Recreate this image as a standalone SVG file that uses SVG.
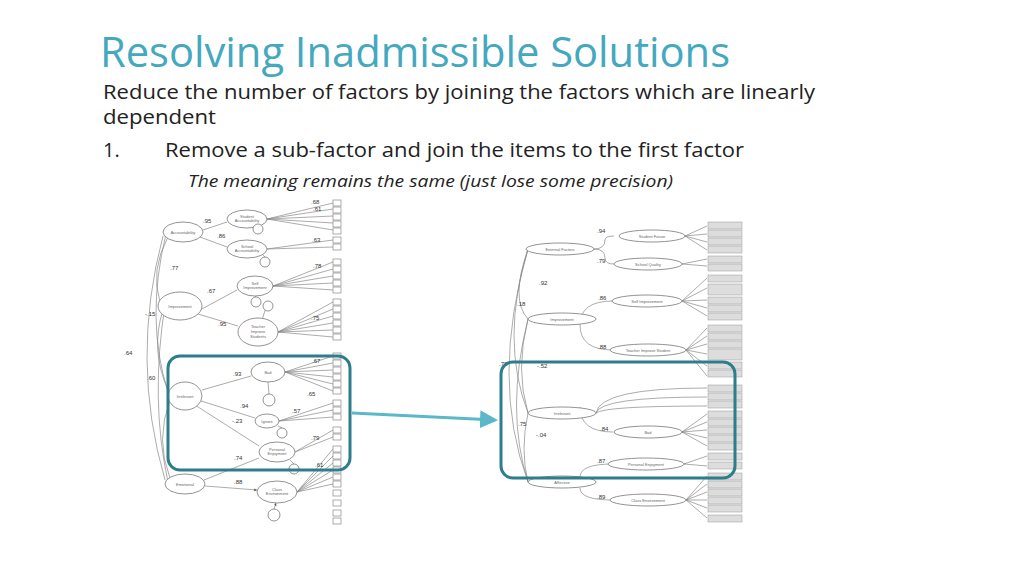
<svg xmlns="http://www.w3.org/2000/svg" width="1024" height="576" viewBox="0 0 1024 576">
<style>
.t{font-family:"Open Sans","Liberation Sans",sans-serif;fill:#222}
.e{fill:#fff;stroke:#777;stroke-width:0.8}
.l{stroke:#888;stroke-width:0.7;fill:none}
.s{font-family:"Liberation Sans",sans-serif;font-size:4px;fill:#666;text-anchor:middle}
.n{font-family:"Liberation Sans",sans-serif;font-size:6px;fill:#333}
.b{fill:#fff;stroke:#777;stroke-width:0.6}
.rb{fill:#ddd;stroke:#999;stroke-width:0.5}
.hl{fill:none;stroke:#2e7d8c;stroke-width:3}
</style>
<defs>
<marker id="a" markerWidth="4" markerHeight="4" refX="4" refY="2" orient="auto"><path d="M0,0L4,2L0,4z" fill="#555"/></marker>
<marker id="ta" markerWidth="6" markerHeight="6" refX="5" refY="3" orient="auto"><path d="M0,0L6,3L0,6z" fill="#5bb8c9"/></marker>
</defs>
<rect width="1024" height="576" fill="#fff"/>
<text x="100" y="67" font-family="Open Sans,Liberation Sans,sans-serif" font-size="42" fill="#44a8bf" textLength="630" lengthAdjust="spacingAndGlyphs">Resolving Inadmissible Solutions</text>
<text class="t" x="103" y="99" font-size="20" textLength="712" lengthAdjust="spacingAndGlyphs">Reduce the number of factors by joining the factors which are linearly</text>
<text class="t" x="103" y="124" font-size="20" textLength="113" lengthAdjust="spacingAndGlyphs">dependent</text>
<text class="t" x="103" y="157" font-size="20">1.</text>
<text class="t" x="165" y="157" font-size="20" textLength="579" lengthAdjust="spacingAndGlyphs">Remove a sub-factor and join the items to the first factor</text>
<text class="t" x="188" y="187" font-size="17" font-style="italic" textLength="485" lengthAdjust="spacingAndGlyphs">The meaning remains the same (just lose some precision)</text>

<g id="left">
<g id="connL">
<path class="l" d="M203,230L227,222M200,237L227,247M200,310L237,290M198,314L238,326M202,390L251,376M198,400L255,418M195,405L259,446M204,480L259,458M205,486L257,490" marker-end="url(#a)"/>
<path class="l" d="M163,236Q130,360 165,480M166,234Q145,320 168,392M168,237Q150,270 160,302M163,310Q150,350 168,390M165,305Q150,400 168,482M170,400Q155,440 170,478"/>
<path class="l" d="M267,219L333,203M267,219L333,209M267,219L333,216M267,219L333,223M267,219L333,230M267,249L333,240M267,249L333,247M273,286L333,262M273,286L333,269M273,286L333,276M273,286L333,283M273,286L333,290M278,332L333,302M278,332L333,309M278,332L333,316M278,332L333,323M278,332L333,330M278,332L333,337M285,372L333,356M285,372L333,363M285,372L333,370M285,372L333,377M285,372L333,384M285,372L333,391M279,421L333,403M279,421L333,410M279,421L333,417M295,452L333,430M295,452L333,437M297,492L333,449M297,492L333,456M297,492L333,463M297,492L333,470M297,492L333,477M297,492L333,484"/>
<path class="l" d="M258,224L255,219M265,257L260,252M256,297L255,296M268,301L262,320M269,394L268,382M282,428L278,426M294,464L290,460M274,509L276,503" marker-end="url(#a)"/>
</g>
<g id="ovals">
<ellipse class="e" cx="183" cy="232" rx="20" ry="10"/><text class="s" x="183" y="234">Accountability</text>
<ellipse class="e" cx="247" cy="219" rx="20" ry="9"/><text class="s" x="247" y="218">Student</text><text class="s" x="247" y="222">Accountability</text>
<ellipse class="e" cx="247" cy="249" rx="20" ry="9"/><text class="s" x="247" y="248">School</text><text class="s" x="247" y="252">Accountability</text>
<ellipse class="e" cx="180" cy="306" rx="22" ry="14"/><text class="s" x="180" y="308">Improvement</text>
<ellipse class="e" cx="255" cy="286" rx="18" ry="10"/><text class="s" x="255" y="285">Self</text><text class="s" x="255" y="289">Improvement</text>
<ellipse class="e" cx="258" cy="332" rx="20" ry="14"/><text class="s" x="258" y="328">Teacher</text><text class="s" x="258" y="333">Improve</text><text class="s" x="258" y="338">Students</text>
<ellipse class="e" cx="185" cy="396" rx="17" ry="14"/><text class="s" x="185" y="398">Irrelevant</text>
<ellipse class="e" cx="268" cy="372" rx="17" ry="10"/><text class="s" x="268" y="374">Bad</text>
<ellipse class="e" cx="267" cy="421" rx="12" ry="7"/><text class="s" x="267" y="423">Ignore</text>
<ellipse class="e" cx="277" cy="452" rx="18" ry="10"/><text class="s" x="277" y="451">Personal</text><text class="s" x="277" y="455">Enjoyment</text>
<ellipse class="e" cx="185" cy="484" rx="20" ry="10"/><text class="s" x="185" y="486">Emotional</text>
<ellipse class="e" cx="277" cy="492" rx="20" ry="11"/><text class="s" x="277" y="491">Class</text><text class="s" x="277" y="495">Environment</text>
<circle class="e" cx="258" cy="229" r="5"/><circle class="e" cx="265" cy="262" r="5"/><circle class="e" cx="256" cy="302" r="5"/><circle class="e" cx="268" cy="306" r="5"/><circle class="e" cx="269" cy="400" r="6"/><circle class="e" cx="282" cy="433" r="5"/><circle class="e" cx="294" cy="469" r="5"/><circle class="e" cx="274" cy="515" r="6"/>
</g>
<g id="boxesL">
<rect class="b" x="333" y="200" width="8" height="6"/><rect class="b" x="333" y="207" width="8" height="6"/><rect class="b" x="333" y="214" width="8" height="6"/><rect class="b" x="333" y="221" width="8" height="6"/><rect class="b" x="333" y="228" width="8" height="6"/><rect class="b" x="333" y="237" width="8" height="6"/><rect class="b" x="333" y="244" width="8" height="6"/><rect class="b" x="333" y="259" width="8" height="6"/><rect class="b" x="333" y="266" width="8" height="6"/><rect class="b" x="333" y="273" width="8" height="6"/><rect class="b" x="333" y="280" width="8" height="6"/><rect class="b" x="333" y="287" width="8" height="6"/><rect class="b" x="333" y="299" width="8" height="6"/><rect class="b" x="333" y="306" width="8" height="6"/><rect class="b" x="333" y="313" width="8" height="6"/><rect class="b" x="333" y="320" width="8" height="6"/><rect class="b" x="333" y="327" width="8" height="6"/><rect class="b" x="333" y="334" width="8" height="6"/><rect class="b" x="333" y="353" width="8" height="6"/><rect class="b" x="333" y="360" width="8" height="6"/><rect class="b" x="333" y="367" width="8" height="6"/><rect class="b" x="333" y="374" width="8" height="6"/><rect class="b" x="333" y="381" width="8" height="6"/><rect class="b" x="333" y="388" width="8" height="6"/><rect class="b" x="333" y="400" width="8" height="6"/><rect class="b" x="333" y="407" width="8" height="6"/><rect class="b" x="333" y="414" width="8" height="6"/><rect class="b" x="333" y="427" width="8" height="6"/><rect class="b" x="333" y="434" width="8" height="6"/><rect class="b" x="333" y="446" width="8" height="6"/><rect class="b" x="333" y="453" width="8" height="6"/><rect class="b" x="333" y="460" width="8" height="6"/><rect class="b" x="333" y="467" width="8" height="6"/><rect class="b" x="333" y="474" width="8" height="6"/><rect class="b" x="333" y="481" width="8" height="6"/><rect class="b" x="333" y="490" width="8" height="6"/><rect class="b" x="333" y="500" width="8" height="6"/><rect class="b" x="333" y="510" width="8" height="6"/><rect class="b" x="333" y="518" width="8" height="6"/>
</g>
<g id="labelsL">
<text class="n" x="203" y="223">.95</text><text class="n" x="217" y="238">.86</text><text class="n" x="170" y="270">.77</text><text class="n" x="207" y="293">.67</text><text class="n" x="218" y="326">.95</text><text class="n" x="145" y="316">-.15</text><text class="n" x="124" y="355">.64</text><text class="n" x="147" y="380">.60</text><text class="n" x="233" y="376">.93</text><text class="n" x="240" y="408">.94</text><text class="n" x="232" y="423">-.23</text><text class="n" x="234" y="460">.74</text><text class="n" x="234" y="484">.88</text>
<text class="n" x="311" y="204">.68</text><text class="n" x="313" y="211">.61</text><text class="n" x="312" y="242">.63</text><text class="n" x="313" y="268">.78</text><text class="n" x="311" y="320">.75</text><text class="n" x="312" y="363">.67</text><text class="n" x="307" y="396">.65</text><text class="n" x="292" y="413">.57</text><text class="n" x="311" y="440">.79</text><text class="n" x="315" y="467">.61</text>
</g>
</g>

<g id="right">
<g id="connR">
<path class="l" d="M594,249Q605,249 605,240Q605,236 614,236M594,249Q605,249 605,258Q605,264 614,264M580,325Q580,301 613,301M580,325Q580,350 613,350M580,407Q580,432 613,432M580,477Q580,464 613,464M580,488Q580,500 613,500"/>
<path class="l" d="M528,249Q510,300 528,319M528,249Q500,340 528,413M528,249Q490,380 528,482M528,319Q515,370 528,413M528,319Q505,410 528,482M528,413Q520,450 528,482"/>
<path class="l" d="M685,236L707,226M685,236L707,234M685,236L707,242M685,236L707,250M682,264L707,259M682,264L707,266M682,301L707,278M682,301L707,288M682,301L707,300M682,301L707,308M682,301L707,316M686,350L707,328M686,350L707,336M686,350L707,344M686,350L707,354M686,350L707,366M686,350L707,376M596,413Q600,388 707,388M596,413Q600,397 707,397M596,413Q605,406 707,406M682,432L707,414M682,432L707,422M682,432L707,430M682,432L707,438M682,432L707,446M684,464L707,456M684,464L707,466M686,500L707,476M686,500L707,484M686,500L707,492M686,500L707,500M686,500L707,508M686,500L707,518"/>
</g>
<g id="ovalsR">
<ellipse class="e" cx="560" cy="249" rx="34" ry="6"/><text class="s" x="560" y="251">External Factors</text>
<ellipse class="e" cx="652" cy="236" rx="33" ry="6"/><text class="s" x="652" y="238">Student Future</text>
<ellipse class="e" cx="648" cy="264" rx="34" ry="6"/><text class="s" x="648" y="266">School Quality</text>
<ellipse class="e" cx="562" cy="319" rx="34" ry="6"/><text class="s" x="562" y="321">Improvement</text>
<ellipse class="e" cx="647" cy="301" rx="35" ry="6"/><text class="s" x="647" y="303">Self Improvement</text>
<ellipse class="e" cx="648" cy="350" rx="38" ry="6"/><text class="s" x="648" y="352">Teacher Improve Student</text>
<ellipse class="e" cx="562" cy="413" rx="34" ry="6"/><text class="s" x="562" y="415">Irrelevant</text>
<ellipse class="e" cx="648" cy="432" rx="34" ry="6"/><text class="s" x="648" y="434">Bad</text>
<ellipse class="e" cx="646" cy="464" rx="38" ry="6"/><text class="s" x="646" y="466">Personal Enjoyment</text>
<ellipse class="e" cx="562" cy="482" rx="34" ry="6"/><text class="s" x="562" y="484">Affective</text>
<ellipse class="e" cx="648" cy="500" rx="38" ry="6"/><text class="s" x="648" y="502">Class Environment</text>
</g>
<g id="boxesR">
<rect class="rb" x="708" y="222" width="34" height="7"/><rect class="rb" x="708" y="230" width="34" height="7"/><rect class="rb" x="708" y="238" width="34" height="7"/><rect class="rb" x="708" y="246" width="34" height="7"/><rect class="rb" x="708" y="256" width="34" height="7"/><rect class="rb" x="708" y="264" width="34" height="7"/><rect class="rb" x="708" y="275" width="34" height="7"/><rect class="rb" x="708" y="284" width="34" height="11"/><rect class="rb" x="708" y="297" width="34" height="7"/><rect class="rb" x="708" y="305" width="34" height="7"/><rect class="rb" x="708" y="313" width="34" height="7"/><rect class="rb" x="708" y="325" width="34" height="7"/><rect class="rb" x="708" y="333" width="34" height="7"/><rect class="rb" x="708" y="341" width="34" height="7"/><rect class="rb" x="708" y="349" width="34" height="11"/><rect class="rb" x="708" y="362" width="34" height="7"/><rect class="rb" x="708" y="370" width="34" height="7"/><rect class="rb" x="708" y="385" width="34" height="7"/><rect class="rb" x="708" y="393" width="34" height="7"/><rect class="rb" x="708" y="401" width="34" height="7"/><rect class="rb" x="708" y="411" width="34" height="7"/><rect class="rb" x="708" y="419" width="34" height="7"/><rect class="rb" x="708" y="427" width="34" height="7"/><rect class="rb" x="708" y="435" width="34" height="7"/><rect class="rb" x="708" y="443" width="34" height="7"/><rect class="rb" x="708" y="453" width="34" height="7"/><rect class="rb" x="708" y="462" width="34" height="7"/><rect class="rb" x="708" y="473" width="34" height="7"/><rect class="rb" x="708" y="481" width="34" height="7"/><rect class="rb" x="708" y="489" width="34" height="7"/><rect class="rb" x="708" y="497" width="34" height="7"/><rect class="rb" x="708" y="505" width="34" height="7"/><rect class="rb" x="708" y="515" width="34" height="7"/>
</g>
<g id="labelsR">
<text class="n" x="539" y="285">.92</text><text class="n" x="517" y="306">.18</text><text class="n" x="499" y="366">.78</text><text class="n" x="537" y="368">-.52</text><text class="n" x="518" y="426">.75</text><text class="n" x="536" y="437">-.04</text><text class="n" x="597" y="233">.94</text><text class="n" x="597" y="263">.79</text><text class="n" x="598" y="300">.86</text><text class="n" x="598" y="349">.88</text><text class="n" x="600" y="431">.84</text><text class="n" x="597" y="463">.87</text><text class="n" x="597" y="499">.89</text>
</g>
</g>

<g id="highlight">
<rect class="hl" x="168" y="356" width="182" height="114" rx="12"/>
<rect class="hl" x="501" y="362" width="234" height="116" rx="12"/>
<path d="M352,413L495,420" stroke="#5bb8c9" stroke-width="3" fill="none" marker-end="url(#ta)"/>
</g>
</svg>
